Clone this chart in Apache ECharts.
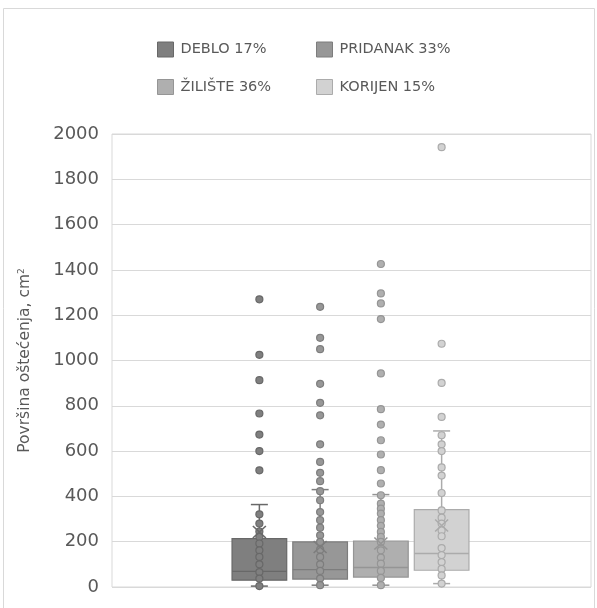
<!DOCTYPE html>
<html><head><meta charset="utf-8">
<script src="https://cdn.jsdelivr.net/npm/echarts@6/dist/echarts.min.js"></script>
<style>html,body{margin:0;padding:0;background:#fff}#c{width:597px;height:608px}</style>
</head><body><div id="c"></div>
<script>
// ---- data ----
const groups = ['DEBLO 17%', 'PRIDANAK 33%', 'ŽILIŠTE 36%', 'KORIJEN 15%'];
const yMin = 0, yMax = 2000, yStep = 200;
const whiskerLow  = [4, 8, 8, 15];
const q1          = [30, 35, 44, 74];
const median      = [69, 77, 86, 148];
const q3          = [214, 199, 203, 342];
const whiskerHigh = [364, 430, 408, 689];
const mean        = [243, 177, 192, 272];
const outliersDeblo    = [1270, 1025, 913, 766, 673, 600, 515];
const outliersPridanak = [1237, 1100, 1050, 897, 813, 758, 630, 552, 504, 467];
const outliersZiliste  = [1426, 1296, 1252, 1183, 943, 785, 717, 648, 585, 516, 457];
const outliersKorijen  = [1942, 1074, 901, 751];
const innerDeblo    = [321, 280, 245, 221, 192, 162, 133, 100, 66, 37, 4];
const innerPridanak = [423, 383, 331, 295, 262, 228, 199, 165, 133, 100, 71, 37, 8];
const innerZiliste  = [405, 368, 346, 324, 295, 270, 243, 221, 199, 162, 130, 103, 71, 40, 8];
const innerKorijen  = [670, 630, 600, 528, 492, 415, 338, 306, 280, 250, 224, 172, 141, 110, 80, 51, 15];

const outliers = [outliersDeblo, outliersPridanak, outliersZiliste, outliersKorijen];
const inner = [innerDeblo, innerPridanak, innerZiliste, innerKorijen];

// ---- styles ----
const fills   = ['#7f7f7f', '#979797', '#afafaf', '#d2d2d2'];
const borders = ['#686868', '#7d7d7d', '#959595', '#ababab'];
const FONT = 'DejaVu Sans';
const TXT = '#595959';

const boxData = groups.map((g, i) => [i, whiskerLow[i], q1[i], median[i], q3[i], whiskerHigh[i]]);

function renderBox(params, api) {
  const i = api.value(0);
  const lo = api.coord([i, api.value(1)]);
  const b1 = api.coord([i, api.value(2)]);
  const md = api.coord([i, api.value(3)]);
  const b3 = api.coord([i, api.value(4)]);
  const hi = api.coord([i, api.value(5)]);
  const band = api.size([1, 0])[0];
  const w = band * 0.9;
  const cw = band * 0.28;
  const x = lo[0];
  const stroke = borders[i], fill = fills[i];
  const ls = {stroke: stroke, lineWidth: 1.5};
  return {type: 'group', children: [
    {type: 'line', shape: {x1: x, y1: b3[1], x2: x, y2: hi[1]}, style: ls},
    {type: 'line', shape: {x1: x, y1: lo[1], x2: x, y2: b1[1]}, style: ls},
    {type: 'line', shape: {x1: x - cw / 2, y1: hi[1], x2: x + cw / 2, y2: hi[1]}, style: ls},
    {type: 'line', shape: {x1: x - cw / 2, y1: lo[1], x2: x + cw / 2, y2: lo[1]}, style: ls},
    {type: 'rect', shape: {x: x - w / 2, y: b3[1], width: w, height: b1[1] - b3[1]}, style: {fill: fill, stroke: stroke, lineWidth: 1.2}},
    {type: 'line', shape: {x1: x - w / 2, y1: md[1], x2: x + w / 2, y2: md[1]}, style: {stroke: stroke, lineWidth: 1.3}}
  ]};
}

const series = [{
  type: 'custom', xAxisIndex: 1, yAxisIndex: 1, renderItem: renderBox,
  data: boxData, silent: true, z: 2
}];
groups.forEach((g, i) => {
  series.push({
    name: g, type: 'scatter', xAxisIndex: 1, yAxisIndex: 1, z: 3,
    symbol: 'circle', symbolSize: 7,
    itemStyle: {color: fills[i], borderColor: borders[i], borderWidth: 1.2, opacity: 1},
    data: inner[i].map(v => [i, v])
  });
  series.push({
    type: 'scatter', xAxisIndex: 1, yAxisIndex: 1, z: 3,
    symbol: 'circle', symbolSize: 7,
    itemStyle: {color: fills[i], borderColor: borders[i], borderWidth: 1.2, opacity: 1},
    data: outliers[i].map(v => [i, v])
  });
});
series.push({
  type: 'scatter', xAxisIndex: 1, yAxisIndex: 1, z: 4,
  symbol: 'path://M0,0L10,10M10,0L0,10', symbolSize: [13, 12],
  itemStyle: {color: 'none', borderWidth: 1.5, opacity: 1},
  data: mean.map((v, i) => ({value: [i, v], itemStyle: {borderColor: borders[i]}}))
});

const legendPos = [[157, 41.5], [316, 41.5], [157, 79], [316, 79]];
const legends = groups.map((g, i) => ({
  data: [{name: g, icon: 'rect', itemStyle: {color: fills[i], borderColor: borders[i], borderWidth: 1}}],
  left: legendPos[i][0], top: legendPos[i][1], padding: 0,
  itemWidth: 16, itemHeight: 15, selectedMode: false,
  textStyle: {fontFamily: FONT, fontSize: 14.5, color: TXT, padding: [0, 0, 0, 2]}
}));

const chart = echarts.init(document.getElementById('c'), null, {renderer: 'canvas'});
chart.setOption({
  backgroundColor: '#fff',
  animation: false,
  graphic: [{type: 'rect', shape: {x: 3.5, y: 8.5, width: 591, height: 620}, style: {fill: 'none', stroke: '#d9d9d9', lineWidth: 1}, z: -10, silent: true}],
  legend: legends,
  grid: [
    {left: 112, right: 6, top: 134, bottom: 21, show: true, borderColor: '#d9d9d9', borderWidth: 1, backgroundColor: 'transparent'},
    {left: 229, right: 125, top: 134, bottom: 21}
  ],
  xAxis: [
    {type: 'value', gridIndex: 0, show: false, min: 0, max: 1},
    {type: 'category', gridIndex: 1, data: groups, show: false, boundaryGap: true}
  ],
  yAxis: [
    {type: 'value', gridIndex: 0, min: yMin, max: yMax, interval: yStep,
     name: 'Površina oštećenja, cm{s|2}', nameLocation: 'middle', nameGap: 79, nameRotate: 90,
     nameTextStyle: {fontFamily: FONT, fontSize: 15.5, color: TXT, rich: {s: {fontFamily: FONT, fontSize: 9, color: TXT, verticalAlign: 'top', padding: [0, 0, 4, 0]}}},
     axisLine: {show: false}, axisTick: {show: false},
     axisLabel: {fontFamily: FONT, fontSize: 18, color: TXT, margin: 13, formatter: v => String(v)},
     splitLine: {show: true, lineStyle: {color: '#d9d9d9', width: 1}}},
    {type: 'value', gridIndex: 1, min: yMin, max: yMax, show: false, splitLine: {show: false}}
  ],
  series: series
});
</script></body></html>
